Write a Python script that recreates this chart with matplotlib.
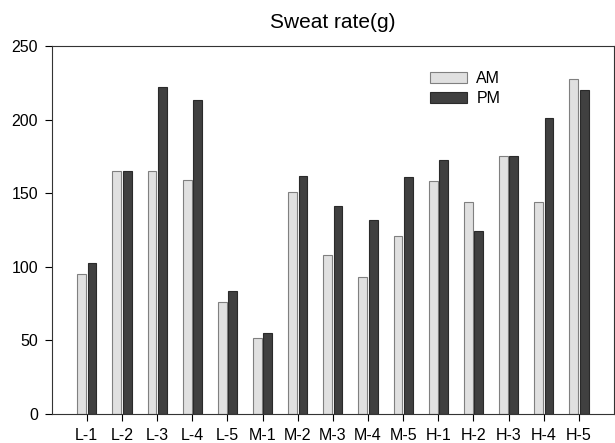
import numpy as np
import matplotlib
matplotlib.use("Agg")
import matplotlib.pyplot as plt

plt.rcParams['font.family'] = ['Liberation Sans', 'DejaVu Sans']

labels = ["L-1", "L-2", "L-3", "L-4", "L-5", "M-1", "M-2", "M-3", "M-4", "M-5",
          "H-1", "H-2", "H-3", "H-4", "H-5"]
am = [95, 165, 165, 159, 76, 51.6, 150.6, 107.8, 93.3, 120.7, 158.3, 144, 175, 143.8, 227.3]
pm = [102.4, 165, 222, 213, 83.8, 55.3, 161.7, 141.3, 132, 160.8, 172.3, 124.1, 175, 201, 220.1]

fig = plt.figure(figsize=(6.15, 4.43), dpi=100)
ax = fig.add_axes([52 / 615, 1 - 414 / 443, (614 - 52) / 615, (414 - 46) / 443])

x = np.arange(len(labels))
w = 0.25
ax.bar(x - 0.145, am, w, color="#e0e0e0", edgecolor="#808080", linewidth=0.8, label="AM")
ax.bar(x + 0.15, pm, w, color="#404040", edgecolor="#2a2a2a", linewidth=0.8, label="PM")

ax.set_xlim(-0.99, 15.0)
ax.set_ylim(0, 250)
ax.set_xticks(x)
ax.set_xticklabels(labels)
ax.set_yticks([0, 50, 100, 150, 200, 250])
ax.tick_params(labelsize=11.5, length=5, width=0.8, direction="out", pad=5)
for s in ax.spines.values():
    s.set_linewidth(0.8)
    s.set_color("#333333")

ax.set_title("Sweat rate(g)", fontsize=15, pad=13)

ax.legend(loc="upper left", bbox_to_anchor=((430 - 52) / 562, 1 - (71 - 46) / 368),
          frameon=False, fontsize=11.5, borderpad=0, borderaxespad=0,
          handlelength=2.3, handleheight=0.7, labelspacing=0.3, handletextpad=0.6)

fig.savefig("out.png", dpi=100)
